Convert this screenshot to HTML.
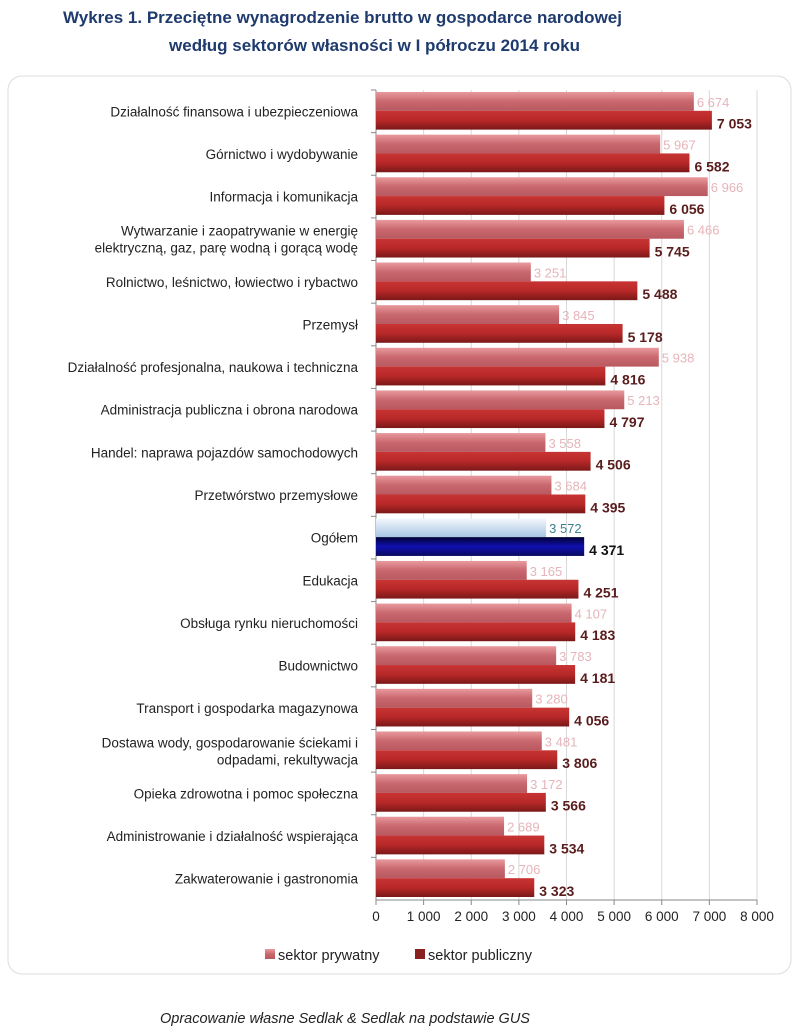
<!DOCTYPE html>
<html><head><meta charset="utf-8"><style>
body{margin:0;width:805px;height:1032px;background:#fff;font-family:"Liberation Sans",sans-serif;position:relative;overflow:hidden}
.t{position:absolute;left:0;width:805px;text-align:center;color:#1f3b6e;font-weight:bold;font-size:17px}
</style></head><body>
<div class="t" style="top:8px;left:-60px">Wykres 1. Przeciętne wynagrodzenie brutto w gospodarce narodowej</div>
<div class="t" style="top:36px;left:-28px">według sektorów własności w I półroczu 2014 roku</div>
<svg width="805" height="1032" style="position:absolute;left:0;top:0">
<defs>
<linearGradient id="gp" x1="0" y1="0" x2="0" y2="1"><stop offset="0" stop-color="#e89a9e"/><stop offset="0.5" stop-color="#c9686e"/><stop offset="1" stop-color="#b85860"/></linearGradient>
<linearGradient id="gq" x1="0" y1="0" x2="0" y2="1"><stop offset="0" stop-color="#c83434"/><stop offset="0.5" stop-color="#b82828"/><stop offset="1" stop-color="#7a1818"/></linearGradient>
<linearGradient id="gb" x1="0" y1="0" x2="0" y2="1"><stop offset="0" stop-color="#f4f8fc"/><stop offset="1" stop-color="#a8c4e4"/></linearGradient>
<linearGradient id="gn" x1="0" y1="0" x2="0" y2="1"><stop offset="0" stop-color="#000033"/><stop offset="0.5" stop-color="#1010b0"/><stop offset="1" stop-color="#0a0a60"/></linearGradient>
</defs>
<rect x="8" y="76" width="783" height="898" rx="14" fill="#fff" stroke="#dcdcdc"/>
<g id="grid"></g><g id="bars"></g><g id="labels"></g>
<text x="160" y="1023" font-size="14.5" font-style="italic" fill="#222">Opracowanie własne Sedlak &amp; Sedlak na podstawie GUS</text>
</svg>
<script>
const categories=[["Działalność finansowa i ubezpieczeniowa"],["Górnictwo i wydobywanie"],["Informacja i komunikacja"],["Wytwarzanie i zaopatrywanie  w energię","elektryczną, gaz, parę wodną i gorącą wodę"],["Rolnictwo, leśnictwo, łowiectwo  i rybactwo"],["Przemysł"],["Działalność profesjonalna, naukowa i techniczna"],["Administracja publiczna i obrona narodowa"],["Handel: naprawa pojazdów samochodowych"],["Przetwórstwo przemysłowe"],["Ogółem"],["Edukacja"],["Obsługa rynku nieruchomości"],["Budownictwo"],["Transport i gospodarka magazynowa"],["Dostawa wody, gospodarowanie ściekami i","odpadami, rekultywacja"],["Opieka zdrowotna i pomoc społeczna"],["Administrowanie i działalność wspierająca"],["Zakwaterowanie i gastronomia"]];
const privateValues=[6674,5967,6966,6466,3251,3845,5938,5213,3558,3684,3572,3165,4107,3783,3280,3481,3172,2689,2706];
const publicValues=[7053,6582,6056,5745,5488,5178,4816,4797,4506,4395,4371,4251,4183,4181,4056,3806,3566,3534,3323];
const ticks=[0,1000,2000,3000,4000,5000,6000,7000,8000];
const X0=376,X1=757,MAX=8000,Y0=90,Y1=900;
const x=v=>X0+(v/MAX)*(X1-X0);
const band=(Y1-Y0)/categories.length;
const y=i=>Y0+i*band;
const NS="http://www.w3.org/2000/svg";
function mk(tag,attrs,parent,txt){const e=document.createElementNS(NS,tag);for(const k in attrs)e.setAttribute(k,attrs[k]);if(txt!=null)e.textContent=txt;parent.appendChild(e);return e;}
const fmt=v=>{const s=String(v);return s.length>3?s.slice(0,-3)+" "+s.slice(-3):s;};
const grid=document.getElementById('grid'),bars=document.getElementById('bars'),labels=document.getElementById('labels');
ticks.forEach(t=>{
  if(t>0){const l=mk('line',{x1:x(t),x2:x(t),y1:Y0,y2:Y1,stroke:'#d8d8d8'},grid);
  
  }
  mk('line',{x1:x(t),x2:x(t),y1:Y1,y2:Y1+5,stroke:'#888'},grid);
  const tl=mk('text',{x:x(t),y:Y1+21,'font-size':13.5,'text-anchor':'middle',fill:'#222'},labels,fmt(t));
  
  
});
mk('line',{x1:X0,x2:X1,y1:Y1,y2:Y1,stroke:'#888'},grid);
mk('line',{x1:X0,x2:X0,y1:Y0,y2:Y1,stroke:'#888'},grid);
categories.forEach((c,i)=>{
  mk('line',{x1:X0-5,x2:X0,y1:y(i),y2:y(i),stroke:'#888'},grid);
  const top=y(i)+2,h=(band-5)/2;
  const og=c[0]==="Ogółem";
  const b1=mk('rect',{x:X0,y:top,width:x(privateValues[i])-X0,height:h,fill:og?'url(#gb)':'url(#gp)'},bars);
  
  
  const b2=mk('rect',{x:X0,y:top+h,width:x(publicValues[i])-X0,height:h,fill:og?'url(#gn)':'url(#gq)'},bars);
  
  
  const v1=mk('text',{x:x(privateValues[i])+3,y:top+h-4,'font-size':13,fill:og?'#3f8090':'#e6b4ba'},labels,fmt(privateValues[i]));
  
  
  const v2=mk('text',{x:x(publicValues[i])+5,y:top+2*h-1,'font-size':14,'font-weight':'bold',fill:og?'#111':'#5a1c1c'},labels,fmt(publicValues[i]));
  
  
  const cy=y(i)+band/2+5;
  c.forEach((ln,j)=>{
    const t=mk('text',{x:358,y:cy+(j-(c.length-1)/2)*17,'font-size':13.5,'text-anchor':'end',fill:'#222'},labels,ln);
    
    
  });
});
const lg1=mk('rect',{x:265,y:949,width:10,height:10,fill:'url(#gp)'},labels);


const lt1=mk('text',{x:278,y:960,'font-size':14.5,fill:'#222'},labels,'sektor prywatny');


const lg2=mk('rect',{x:415,y:949,width:10,height:10,fill:'#8a2020'},labels);


const lt2=mk('text',{x:428,y:960,'font-size':14.5,fill:'#222'},labels,'sektor publiczny');


</script>
</body></html>
